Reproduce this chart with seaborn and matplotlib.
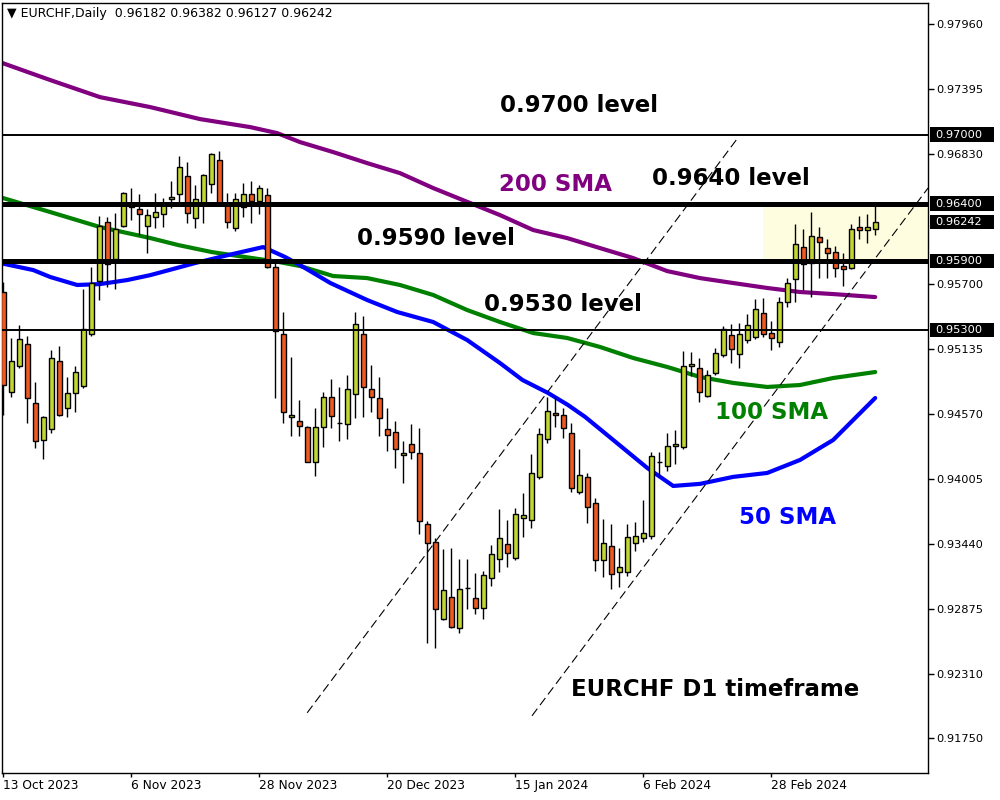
import numpy as np
import pandas as pd
import seaborn as sns
import matplotlib.pyplot as plt
import matplotlib.transforms as mtransforms
from matplotlib.patches import Rectangle

# daily candles, EURCHF, 13 Oct 2023 .. mid Mar 2024
opens = [0.95631, 0.94762, 0.94988, 0.95179, 0.94666, 0.94344, 0.94440, 0.95031, 0.94622, 0.94753,
         0.94814, 0.95266, 0.95726, 0.96239, 0.95917, 0.96204, 0.96387, 0.96352, 0.96204, 0.96282,
         0.96308, 0.96439, 0.96482, 0.96639, 0.96274, 0.96404, 0.96569, 0.96778, 0.96395, 0.96187,
         0.96369, 0.96482, 0.96421, 0.96473, 0.95848, 0.95266, 0.94544, 0.94510, 0.94457, 0.94153,
         0.94457, 0.94718, 0.94492, 0.94483, 0.94744, 0.95266, 0.94788, 0.94709, 0.94440, 0.94414,
         0.94214, 0.94310, 0.94231, 0.93614, 0.93458, 0.92788, 0.92979, 0.92710, 0.93058, 0.92971,
         0.92884, 0.93145, 0.93310, 0.93441, 0.93319, 0.93666, 0.93649, 0.94023, 0.94353, 0.94579,
         0.94562, 0.94405, 0.93893, 0.94023, 0.93797, 0.93301, 0.93423, 0.93197, 0.93197, 0.93449,
         0.93493, 0.93510, 0.94153, 0.94118, 0.94292, 0.94284, 0.94988, 0.94970, 0.94727, 0.94927,
         0.95083, 0.95257, 0.95092, 0.95213, 0.95240, 0.95448, 0.95274, 0.95196, 0.95544, 0.95744,
         0.96022, 0.95882, 0.96108, 0.96013, 0.95978, 0.95856, 0.95839, 0.96195, 0.96169, 0.96182]
highs = [0.95717, 0.95231, 0.95344, 0.95248, 0.94848, 0.94553, 0.95126, 0.95161, 0.94892, 0.94988,
         0.95657, 0.95848, 0.96291, 0.96282, 0.96317, 0.96500, 0.96534, 0.96482, 0.96352, 0.96491,
         0.96447, 0.96595, 0.96812, 0.96760, 0.96560, 0.96656, 0.96838, 0.96856, 0.96491, 0.96491,
         0.96578, 0.96595, 0.96560, 0.96534, 0.95909, 0.95457, 0.95066, 0.94692, 0.94466, 0.94622,
         0.94762, 0.94874, 0.94805, 0.94909, 0.95457, 0.95422, 0.94996, 0.94892, 0.94622, 0.94510,
         0.94336, 0.94483, 0.94449, 0.93640, 0.93493, 0.93397, 0.93406, 0.93310, 0.93310, 0.93188,
         0.93205, 0.93432, 0.93745, 0.93649, 0.93753, 0.93884, 0.94223, 0.94449, 0.94718, 0.94718,
         0.94622, 0.94492, 0.94266, 0.94057, 0.93840, 0.93658, 0.93614, 0.93406, 0.93614, 0.93632,
         0.93823, 0.94240, 0.94240, 0.94405, 0.94431, 0.95118, 0.95109, 0.95057, 0.94953, 0.95144,
         0.95335, 0.95352, 0.95361, 0.95440, 0.95570, 0.95578, 0.95379, 0.95587, 0.95752, 0.96221,
         0.96178, 0.96326, 0.96195, 0.96091, 0.96030, 0.95969, 0.96221, 0.96291, 0.96308, 0.96382]
lows = [0.94562, 0.94718, 0.94970, 0.94492, 0.94275, 0.94179, 0.94405, 0.94553, 0.94544, 0.94588,
        0.94796, 0.95248, 0.95561, 0.95674, 0.95657, 0.96195, 0.96256, 0.96126, 0.95969, 0.96187,
        0.96195, 0.96360, 0.96413, 0.96230, 0.96187, 0.96230, 0.96491, 0.96395, 0.96187, 0.96161,
        0.96282, 0.96230, 0.96308, 0.95839, 0.94709, 0.94492, 0.94379, 0.94379, 0.94153, 0.94032,
        0.94284, 0.94449, 0.94336, 0.94353, 0.94536, 0.94544, 0.94588, 0.94379, 0.94249, 0.94101,
        0.93971, 0.94179, 0.93528, 0.92579, 0.92536, 0.92779, 0.92710, 0.92666, 0.92875, 0.92831,
        0.92788, 0.93075, 0.93197, 0.93241, 0.93301, 0.93501, 0.93579, 0.94005, 0.94318, 0.94457,
        0.94362, 0.93893, 0.93875, 0.93623, 0.93205, 0.93153, 0.93049, 0.93066, 0.93162, 0.93380,
        0.93458, 0.93484, 0.94023, 0.94075, 0.94136, 0.94266, 0.94901, 0.94675, 0.94718, 0.94909,
        0.95066, 0.95014, 0.94970, 0.95187, 0.95222, 0.95240, 0.95126, 0.95153, 0.95500, 0.95544,
        0.95648, 0.95587, 0.95752, 0.95752, 0.95761, 0.95683, 0.95830, 0.96091, 0.96056, 0.96127]
closes = [0.94822, 0.95031, 0.95222, 0.94709, 0.94336, 0.94544, 0.95057, 0.94562, 0.94753, 0.94935,
          0.95309, 0.95709, 0.96204, 0.95874, 0.96178, 0.96491, 0.96369, 0.96308, 0.96300, 0.96326,
          0.96387, 0.96456, 0.96717, 0.96317, 0.96439, 0.96647, 0.96830, 0.96404, 0.96239, 0.96439,
          0.96482, 0.96421, 0.96534, 0.95848, 0.95292, 0.94588, 0.94562, 0.94466, 0.94153, 0.94457,
          0.94718, 0.94553, 0.94492, 0.94788, 0.95352, 0.94805, 0.94718, 0.94536, 0.94388, 0.94266,
          0.94231, 0.94240, 0.93640, 0.93449, 0.92875, 0.93040, 0.92718, 0.93049, 0.93058, 0.92884,
          0.93171, 0.93353, 0.93493, 0.93362, 0.93701, 0.93692, 0.94057, 0.94397, 0.94596, 0.94562,
          0.94449, 0.93927, 0.94040, 0.93762, 0.93301, 0.93449, 0.93179, 0.93241, 0.93501, 0.93510,
          0.93536, 0.94205, 0.94153, 0.94292, 0.94310, 0.94988, 0.95005, 0.94762, 0.94909, 0.95101,
          0.95309, 0.95135, 0.95266, 0.95344, 0.95483, 0.95266, 0.95231, 0.95544, 0.95709, 0.96048,
          0.95874, 0.96117, 0.96065, 0.95969, 0.95839, 0.95830, 0.96178, 0.96169, 0.96195, 0.96242]

# moving averages (bar index, price)
sma200_idx = [-0.4, 5.9, 12.1, 18.4, 24.6, 30.9, 34.25, 37.1, 41.25, 45.5, 49.6, 53.75, 58.4,
              62.1, 66.25, 70.5, 74.6, 78.75, 83.0, 87.1, 91.25, 95.5, 99.6, 103.75, 109]
sma200_val = [0.97630, 0.97474, 0.97326, 0.97239, 0.97135, 0.97065, 0.97013, 0.96935, 0.96848,
              0.96752, 0.96665, 0.96535, 0.96404, 0.96300, 0.96170, 0.96100, 0.96013, 0.95926,
              0.95813, 0.95752, 0.95709, 0.95666, 0.95631, 0.95613, 0.95587]
sma100_idx = [-0.4, 5.9, 12.1, 18.4, 21.9, 26.1, 30.25, 34.4, 37.1, 41.25, 45.5, 49.6, 53.75,
              58.0, 62.1, 66.25, 70.5, 74.6, 78.75, 83.0, 87.1, 91.25, 95.5, 99.6, 103.75, 109]
sma100_val = [0.96456, 0.96326, 0.96196, 0.96100, 0.96039, 0.95978, 0.95935, 0.95893, 0.95857,
              0.95770, 0.95752, 0.95692, 0.95605, 0.95474, 0.95370, 0.95274, 0.95231, 0.95153,
              0.95057, 0.94979, 0.94892, 0.94840, 0.94805, 0.94822, 0.94883, 0.94935]
sma50_idx = [-0.4, 3.75, 5.9, 9.25, 12.1, 15.5, 18.4, 24.0, 28.1, 32.5, 35.25, 37.1, 40.9, 45.5,
             49.25, 53.75, 58.0, 62.1, 64.9, 68.1, 70.6, 72.75, 76.25, 80.5, 83.75, 87.1, 91.25,
             95.5, 99.6, 103.75, 109]
sma50_val = [0.95883, 0.95822, 0.95761, 0.95692, 0.95700, 0.95735, 0.95778, 0.95883, 0.95952,
             0.96022, 0.95935, 0.95865, 0.95709, 0.95561, 0.95457, 0.95370, 0.95213, 0.95013,
             0.94866, 0.94753, 0.94648, 0.94544, 0.94344, 0.94101, 0.93944, 0.93962, 0.94023,
             0.94057, 0.94170, 0.94344, 0.94709]

levels_thin = [0.97000, 0.95300]
levels_thick = [0.96400, 0.95900]

# dashed channel lines: (start idx, start price, end idx, end price)
channel_upper = [38.0, 0.91971, 91.9, 0.96978]
channel_lower = [66.1, 0.91945, 115.6, 0.96535]

zone_start = 95
zone_low, zone_high = 0.95909, 0.96370

date_ticks = [0, 16, 32, 48, 64, 80, 96]
date_labels = ['13 Oct 2023', '6 Nov 2023', '28 Nov 2023', '20 Dec 2023',
               '15 Jan 2024', '6 Feb 2024', '28 Feb 2024']
price_ticks = [0.97960, 0.97395, 0.96830, 0.95700, 0.95135, 0.94570,
               0.94005, 0.93440, 0.92875, 0.92310, 0.91750]
marked_prices = [0.97000, 0.96400, 0.96242, 0.95900, 0.95300]

df = pd.DataFrame({'open': opens, 'high': highs, 'low': lows, 'close': closes})
df['idx'] = np.arange(len(df))
df['up'] = df['close'] >= df['open']

sns.set_theme(style='white')
plt.rcParams['font.family'] = ['DejaVu Sans']

fig = plt.figure(figsize=(10, 8), dpi=100)
ax = fig.add_axes([0.002, 0.034, 0.926, 0.962])
ax.set_facecolor('white')

ax.add_patch(Rectangle((zone_start, zone_low), 40, zone_high - zone_low,
                       facecolor='#fffde0', edgecolor='none', zorder=0))

# moving averages
sns.lineplot(x=sma200_idx, y=sma200_val, ax=ax, color='#800080', lw=3, zorder=2)
sns.lineplot(x=sma100_idx, y=sma100_val, ax=ax, color='#008000', lw=3, zorder=2)
sns.lineplot(x=sma50_idx, y=sma50_val, ax=ax, color='#0000ff', lw=3, zorder=2)

# channel
for ln in [channel_upper, channel_lower]:
    ax.plot([ln[0], ln[2]], [ln[1], ln[3]], color='black', lw=0.8,
            ls=(0, (8, 4)), zorder=3)

# candles
ax.vlines(df['idx'], df['low'], df['high'], color='black', lw=1, zorder=4)
body_lo = df[['open', 'close']].min(axis=1)
body_h = (df['close'] - df['open']).abs()
colors = np.where(df['up'], '#c2d531', '#f05a22')
ax.bar(df['idx'], body_h, bottom=body_lo, width=0.62, color=colors,
       edgecolor='black', linewidth=1, zorder=5)

for lv in levels_thin:
    ax.axhline(lv, color='black', lw=1.4, zorder=6)
for lv in levels_thick:
    ax.axhline(lv, color='black', lw=3.6, zorder=6)

ax.set_xlim(-0.15, 115.6)
ax.set_ylim(0.91449, 0.98143)

# axes
for s in ax.spines.values():
    s.set_color('black')
    s.set_linewidth(1)
ax.yaxis.tick_right()
ax.set_yticks(price_ticks)
ax.set_yticklabels([f'{v:.5f}' for v in price_ticks])
ax.set_xticks(date_ticks)
ax.set_xticklabels(date_labels, ha='left')
ax.tick_params(axis='y', direction='out', length=4, width=1, colors='black',
               labelsize=8.2, pad=2, right=True, left=False)
ax.tick_params(axis='x', direction='out', length=3, width=1, colors='black',
               labelsize=8.8, pad=1.5, bottom=True)
ax.set_xlabel('')
ax.set_ylabel('')

# boxed price marks on the right axis
trans = mtransforms.blended_transform_factory(ax.transAxes, ax.transData)
for v in marked_prices:
    ax.add_patch(Rectangle((1.002, v - 0.00063), 0.069, 0.00126, transform=trans,
                           facecolor='black', edgecolor='none', clip_on=False, zorder=10))
    ax.text(1.008, v, f'{v:.5f}', transform=trans, color='white', fontsize=8.2,
            ha='left', va='center', clip_on=False, zorder=11)

# annotations
bold = dict(fontsize=16.5, fontweight='bold', ha='center', va='center', zorder=12)
ax.text(72.0, 0.97256, '0.9700 level', color='black', **bold)
ax.text(69.0, 0.96569, '200 SMA', color='#800080', **bold)
ax.text(91.0, 0.96622, '0.9640 level', color='black', **bold)
ax.text(54.1, 0.96100, '0.9590 level', color='black', **bold)
ax.text(70.0, 0.95526, '0.9530 level', color='black', **bold)
ax.text(96.1, 0.94579, '100 SMA', color='#008000', **bold)
ax.text(98.1, 0.93666, '50 SMA', color='#0000ff', **bold)
ax.text(89.0, 0.92171, 'EURCHF D1 timeframe', color='black', **bold)

fig.text(0.007, 1 - 14 / 800, '\u25bc EURCHF,Daily  0.96182 0.96382 0.96127 0.96242',
         fontsize=9, color='black', ha='left', va='center')

fig.savefig('out.png', dpi=100, facecolor='white')
